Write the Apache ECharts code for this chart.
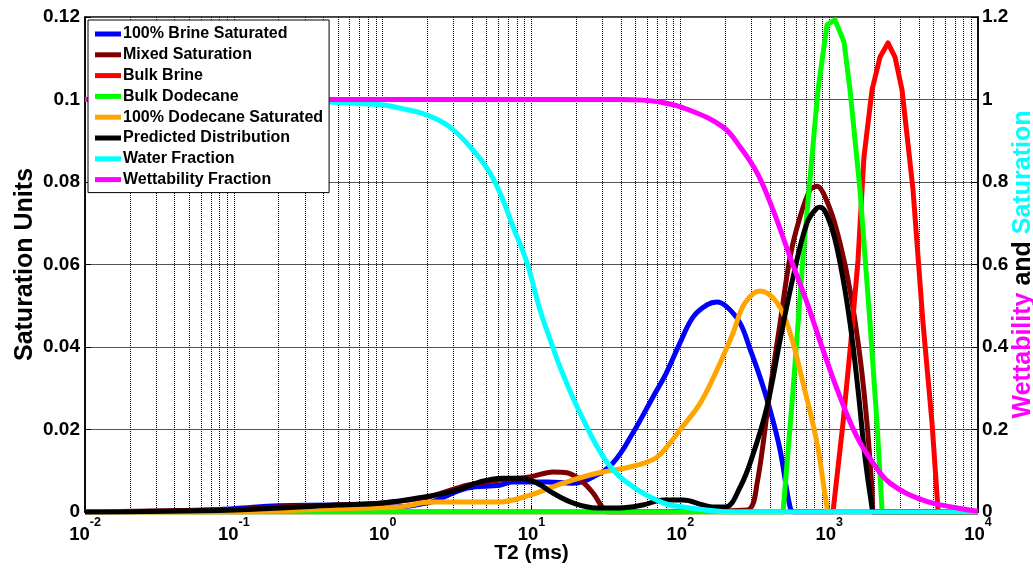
<html>
<head>
    <meta charset="utf-8">
    <title>T2 distributions</title>
    <script src="https://cdn.jsdelivr.net/npm/echarts@6/dist/echarts.min.js"></script>
    <style>body{margin:0;background:#fff;}</style>
</head>
<body>
<div id="main" style="width: 1033px;height:573px;"></div>
<script>
    // T2 in ms, left axis in saturation units
    var blueT = [0.01, 0.05, 0.1, 0.2, 0.5, 1.0, 2.0, 3.7, 6.1, 7.5, 12.7, 19, 25.9, 35.3, 48.1, 65.5, 80, 99.5, 122, 151, 176, 206, 252, 294, 343, 401, 468, 546, 580, 10000];
    var blueV = [0, 0.0003, 0.0008, 0.0015, 0.0017, 0.0012, 0.0022, 0.0058, 0.0065, 0.0073, 0.0073, 0.0070, 0.0085, 0.0119, 0.0192, 0.0279, 0.0335, 0.0410, 0.0473, 0.0502, 0.0509, 0.0497, 0.0458, 0.0395, 0.0327, 0.0247, 0.0150, 0.0012, 0, 0];

    var mixedT = [0.01, 0.1, 0.2, 0.5, 1, 2, 3.7, 6.4, 9.8, 13.9, 17.3, 21.2, 25.9, 29.8, 32.2, 281, 328, 401, 468, 546, 637, 744, 829, 1013, 1183, 1381, 1611, 1795, 1941, 1972, 10000];
    var mixedV = [0, 0.0006, 0.0012, 0.0017, 0.0022, 0.0036, 0.0065, 0.0078, 0.0085, 0.0097, 0.0095, 0.0078, 0.0046, 0.0012, 0, 0.0005, 0.0070, 0.0296, 0.0458, 0.0618, 0.0715, 0.0781, 0.0790, 0.0735, 0.0652, 0.0538, 0.0376, 0.0216, 0.0053, 0, 0];

    var brineT = [0.01, 1061, 1239, 1403, 1563, 1713, 1941, 2197, 2485, 2769, 3088, 3659, 4272, 4911, 5387, 5500, 10000];
    var brineV = [0, 0, 0.0216, 0.0417, 0.0611, 0.0861, 0.1023, 0.1103, 0.1137, 0.1103, 0.1023, 0.0781, 0.0458, 0.0216, 0.0005, 0, 0];

    var dodecT = [0.01, 490, 572, 667, 841, 967, 1094, 1259, 1381, 1611, 1881, 2096, 2266, 2300, 10000];
    var dodecV = [0, 0, 0.0296, 0.0618, 0.1023, 0.1181, 0.1193, 0.1139, 0.1023, 0.0781, 0.0458, 0.0216, 0.0005, 0, 0];

    var dodSatT = [0.01, 0.1, 0.2, 0.5, 1, 1.31, 2.18, 3.47, 5.9, 9.77, 16.3, 27.5, 45.9, 59.7, 69.7, 81.3, 99.5, 136, 176, 226, 270, 343, 447, 546, 667, 829, 967, 1000, 10000];
    var dodSatV = [0, 0, 0.0003, 0.0008, 0.0010, 0.0012, 0.0024, 0.0024, 0.0024, 0.0041, 0.0070, 0.0094, 0.0109, 0.0121, 0.0133, 0.0158, 0.0199, 0.0264, 0.0344, 0.0434, 0.0505, 0.0536, 0.0507, 0.0434, 0.0313, 0.0167, 0.0012, 0, 0];

    var predT = [0.01, 0.1, 0.5, 1, 1.87, 3.16, 4.51, 6.44, 8.37, 10.9, 13.9, 19, 27.5, 39.3, 56.1, 76.5, 104, 142, 166, 200, 252, 308, 382, 468, 572, 710, 829, 868, 1013, 1183, 1381, 1563, 1741, 1941, 1972, 10000];
    var predV = [0, 0.0005, 0.0017, 0.0022, 0.0036, 0.0053, 0.0073, 0.0082, 0.0082, 0.0070, 0.0046, 0.0022, 0.0010, 0.0010, 0.0017, 0.0029, 0.0029, 0.0017, 0.0012, 0.0012, 0.0060, 0.0140, 0.0255, 0.0417, 0.0569, 0.0701, 0.0737, 0.0739, 0.0701, 0.0604, 0.0458, 0.0296, 0.0133, 0.0010, 0, 0];

    // right axis (fractions)
    var waterT = [0.01, 0.1, 0.2, 0.443, 0.99, 1.31, 1.99, 2.83, 4.05, 5.26, 6.44, 7.52, 9.33, 11.4, 13.9, 15.6, 21.2, 32.2, 48.1, 76.5, 104, 226, 10000];
    var waterF = [1, 1, 0.999, 0.994, 0.987, 0.979, 0.962, 0.933, 0.877, 0.822, 0.756, 0.691, 0.604, 0.49, 0.40, 0.35, 0.24, 0.12, 0.061, 0.022, 0.012, 0, 0];

    var wetT = [0.01, 40, 73, 116, 194, 252, 328, 420, 546, 710, 909, 1183, 1539, 1972, 2563, 4272, 7226, 10000];
    var wetF = [1, 1, 0.994, 0.974, 0.933, 0.885, 0.822, 0.732, 0.618, 0.507, 0.393, 0.279, 0.182, 0.119, 0.070, 0.029, 0.0097, 0.002];

    var names = ['100% Brine Saturated', 'Mixed Saturation', 'Bulk Brine', 'Bulk Dodecane',
        '100% Dodecane Saturated', 'Predicted Distribution', 'Water Fraction', 'Wettability Fraction'];
    var colors = ['#0000ff', '#7f0000', '#ff0000', '#00ff00', '#ffa500', '#000000', '#00ffff', '#ff00ff'];

    function zip(a, b) {
        return a.map(function (t, i) { return [t, b[i]]; });
    }

    // dotted minor grid lines at 2..9 x 10^k
    var minorLines = [];
    for (var k = -2; k < 4; k++) {
        for (var m = 2; m <= 9; m++) {
            minorLines.push({xAxis: m * Math.pow(10, k)});
        }
    }

    var font = 'Liberation Sans, Arial, sans-serif';

    function curve(i, data, yIdx, smooth) {
        return {
            name: names[i],
            type: 'line',
            yAxisIndex: yIdx,
            data: data,
            showSymbol: false,
            smooth: smooth,
            lineStyle: {width: 5, color: colors[i], join: 'round'},
            itemStyle: {color: colors[i]},
            z: 3
        };
    }

    var myChart = echarts.init(document.getElementById('main'));
    myChart.setOption({
        animation: false,
        color: colors,
        grid: {left: 85, right: 55, top: 17, bottom: 61, outerBoundsMode: 'none',
            show: true, borderColor: '#000', borderWidth: 1.5},
        legend: {
            data: names,
            orient: 'vertical',
            left: 88, top: 20,
            icon: 'rect',
            itemWidth: 26, itemHeight: 5,
            itemGap: 4.8,
            padding: [6, 6, 5, 7],
            backgroundColor: '#fff',
            borderColor: '#000',
            borderWidth: 1,
            textStyle: {fontFamily: font, fontSize: 16, fontWeight: 'bold', color: '#000', padding: [0, 0, 0, -3]}
        },
        xAxis: {
            type: 'log',
            logBase: 10,
            min: 0.01,
            max: 10000,
            name: 'T2 (ms)',
            nameLocation: 'middle',
            nameGap: 31,
            nameMoveOverlap: false,
            nameTextStyle: {fontFamily: font, fontSize: 21, fontWeight: 'bold', color: '#000'},
            axisLine: {lineStyle: {color: '#000', width: 1.5}},
            axisTick: {inside: true, length: 6, lineStyle: {color: '#000'}},
            splitLine: {show: true, lineStyle: {type: 'dotted', color: '#000', width: 1}},
            axisLabel: {
                margin: 4,
                formatter: function (v) {
                    return '{b|10}{s|' + Math.round(Math.log10(v)) + '}';
                },
                rich: {
                    b: {fontFamily: font, fontSize: 18.5, fontWeight: 'bold', color: '#000', verticalAlign: 'bottom', lineHeight: 28},
                    s: {fontFamily: font, fontSize: 12.5, fontWeight: 'bold', color: '#000', verticalAlign: 'top', lineHeight: 28}
                }
            }
        },
        yAxis: [{
            type: 'value',
            min: 0, max: 0.12, interval: 0.02,
            name: 'Saturation Units',
            nameLocation: 'middle',
            nameGap: 47,
            nameMoveOverlap: false,
            nameTextStyle: {fontFamily: font, fontSize: 25, fontWeight: 'bold', color: '#000'},
            axisLine: {show: true, lineStyle: {color: '#000', width: 1.5}},
            axisTick: {show: true, inside: true, length: 6, lineStyle: {color: '#000'}},
            axisLabel: {fontFamily: font, fontSize: 19, fontWeight: 'bold', color: '#000', margin: 5},
            splitLine: {show: true, lineStyle: {color: '#555', width: 1}}
        }, {
            type: 'value',
            min: 0, max: 1.2, interval: 0.2,
            name: '{w|Wettability} {a|and} {s|Saturation}',
            nameLocation: 'middle',
            nameGap: 33,
            nameMoveOverlap: false,
            nameRotate: 90,
            nameTextStyle: {
                fontFamily: font, fontSize: 25, fontWeight: 'bold',
                rich: {
                    w: {fontFamily: font, fontSize: 25, fontWeight: 'bold', color: '#ff00ff'},
                    a: {fontFamily: font, fontSize: 25, fontWeight: 'bold', color: '#000'},
                    s: {fontFamily: font, fontSize: 25, fontWeight: 'bold', color: '#00ffff'}
                }
            },
            axisLine: {show: true, lineStyle: {color: '#000', width: 1.5}},
            axisTick: {show: true, inside: true, length: 6, lineStyle: {color: '#000'}},
            axisLabel: {fontFamily: font, fontSize: 19, fontWeight: 'bold', color: '#000', margin: 4},
            splitLine: {show: false}
        }],
        series: [
            {
                name: 'grid',
                type: 'line',
                data: [],
                silent: true,
                markLine: {
                    silent: true,
                    symbol: 'none',
                    z: 1,
                    label: {show: false},
                    lineStyle: {type: 'dotted', color: '#000', width: 1},
                    data: minorLines
                }
            },
            curve(0, zip(blueT, blueV), 0, 0.4),
            curve(1, zip(mixedT, mixedV), 0, 0.3),
            curve(2, zip(brineT, brineV), 0, false),
            curve(3, zip(dodecT, dodecV), 0, false),
            curve(4, zip(dodSatT, dodSatV), 0, 0.4),
            curve(5, zip(predT, predV), 0, 0.4),
            curve(6, zip(waterT, waterF), 1, 0.4),
            curve(7, zip(wetT, wetF), 1, 0.4)
        ]
    });
</script>
</body>
</html>
